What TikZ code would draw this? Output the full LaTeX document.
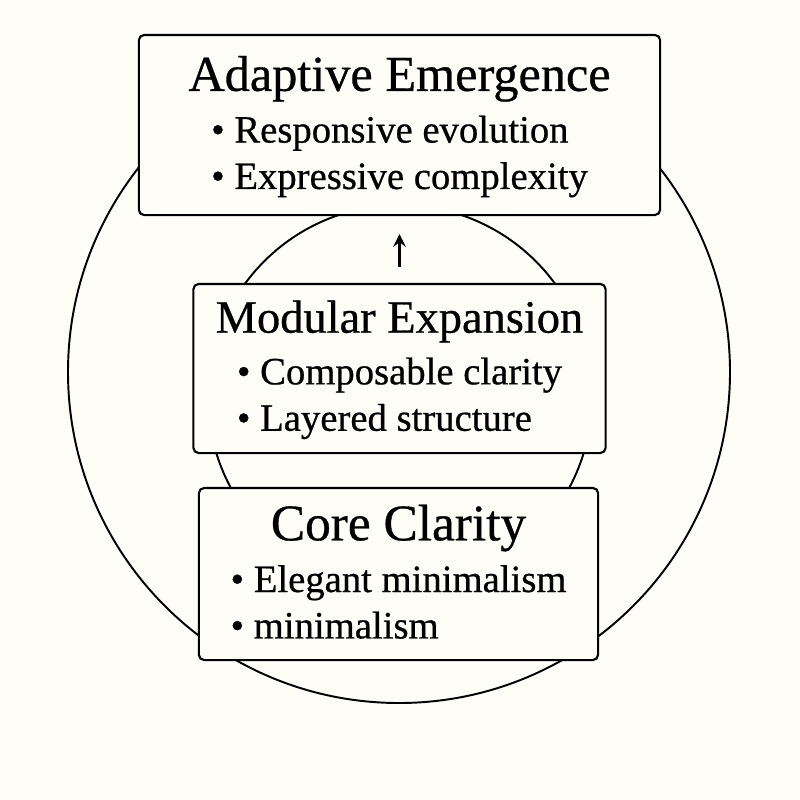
\documentclass[tikz,border=0pt]{standalone}
\usepackage{fontspec}
\setmainfont{Liberation Serif}[UprightFeatures={FakeBold=0.6}]
\usepackage{tikz}
\usetikzlibrary{arrows, positioning}
\tikzset{>=stealth}
\definecolor{paper}{HTML}{FEFDF8}
\newcommand{\tiertext}[4]{{\fontsize{#1}{#1}\selectfont\rule{0pt}{0.87em}#2}\\[1.5pt]\begin{tabular}[t]{@{}l@{}}\textbullet\ #3\\ \textbullet\ #4\end{tabular}}

\begin{document}
\begin{tikzpicture}[x=0.01cm, y=0.01cm,
  tier/.style={draw, line width=0.6pt, rounded corners=1.5pt, fill=paper, align=center,
    inner sep=0pt, font=\fontsize{11}{13.2}\selectfont}]
\fill[paper](0,0) rectangle (800,-800);
\draw[line width=0.55pt](399,-372) circle (331);
\draw[line width=0.55pt](400,-397) circle (192);

\node[tier, minimum width=5.21cm, minimum height=1.80cm] (adaptive) at (399.5,-125)
  {\tiertext{14.3}{Adaptive Emergence}{Responsive evolution}{Expressive complexity}};
\node[tier, minimum width=4.12cm, minimum height=1.69cm] (modular) at (399.5,-368.5)
  {\tiertext{13.2}{Modular Expansion}{Composable clarity}{Layered structure}};
\node[tier, minimum width=3.99cm, minimum height=1.72cm] (core) at (398.5,-574)
  {\tiertext{14.6}{Core Clarity}{Elegant minimalism}{minimalism}};

\draw[->, line width=0.6pt, shorten <=0.16cm, shorten >=0.18cm](modular.north)--(modular.north |- adaptive.south);
\end{tikzpicture}
\end{document}
